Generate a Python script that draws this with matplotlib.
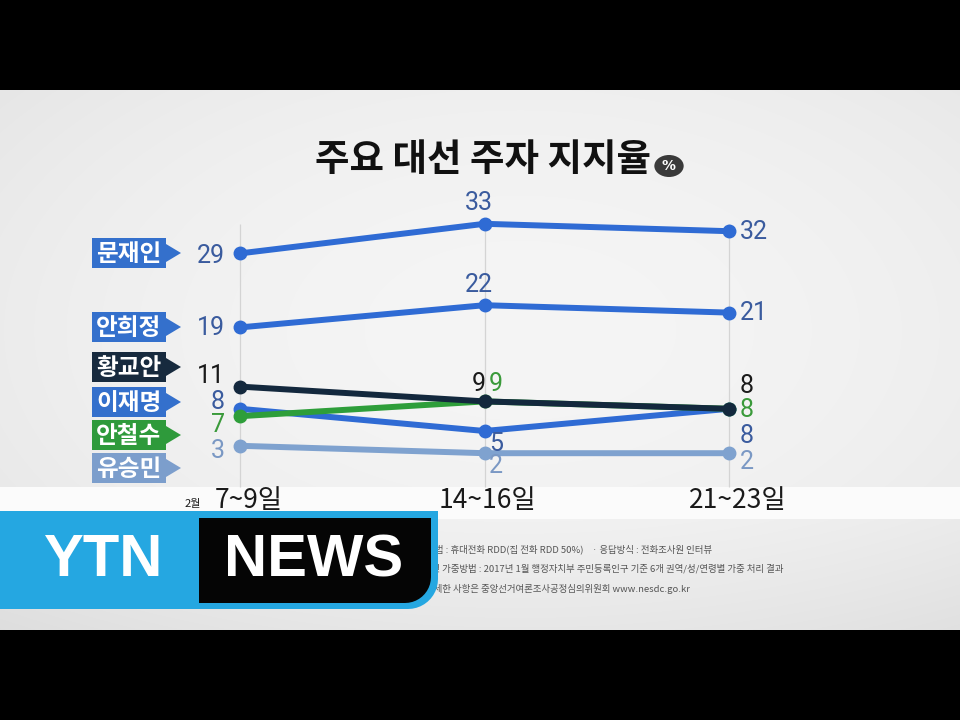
import matplotlib
matplotlib.use('Agg')
import matplotlib.pyplot as plt
import numpy as np
from matplotlib.patches import Rectangle, Polygon, Circle

plt.rcParams['font.family'] = ['Noto Sans CJK KR', 'DejaVu Sans']

# ---------------- data ----------------
title = '주요 대선 주자 지지율'
periods = ['7~9일', '14~16일', '21~23일']
month_label = '2월'
candidates = ['문재인', '안희정', '황교안', '이재명', '안철수', '유승민']
moon = [29, 33, 32]
ahn_hj = [19, 22, 21]
hwang = [11, 9, 8]
lee = [8, 5, 8]
ahn_cs = [7, 9, 8]
yoo = [3, 2, 2]
series = [moon, ahn_hj, hwang, lee, ahn_cs, yoo]
footnotes = [
    '조사방법 : 휴대전화 RDD(집 전화 RDD 50%)    · 응답방식 : 전화조사원 인터뷰',
    '표본 및 가중방법 : 2017년 1월 행정자치부 주민등록인구 기준 6개 권역/성/연령별 가중 처리 결과',
    '자세한 사항은 중앙선거여론조사공정심의위원회 www.nesdc.go.kr',
]

# ---------------- styles ----------------
line_colors = ['#2f6bd4', '#2f6bd4', '#13283d', '#2f6bd4', '#2e9e3a', '#7fa2cf']
tag_colors = ['#3470cc', '#3470cc', '#172a3e', '#3470cc', '#2e9a3b', '#7c9ecc']
num_colors = ['#3a5b9e', '#3a5b9e', '#1a1a1a', '#3a5b9e', '#3a9a3a', '#7a98c4']
zorders = [9, 8, 7, 5, 6, 4]
# label offsets in pixels (start, middle, end)
start_off = [(-15, -3), (-15, -1), (-15, 11), (-15, 7), (-15, -9), (-15, -5)]
mid_off = [(-6, 21), (-6, 20), (-6, 17), (12, -13), (11, 17), (11, -13)]
end_off = [(11, -1), (11, 0), (11, 23), (11, -27), (11, -1), (11, -9)]
tag_tops = [238, 312, 352, 387, 420, 453]   # pixel tops of name tags

W, H = 960, 720
fig = plt.figure(figsize=(9.6, 7.2), dpi=100)
fig.patch.set_facecolor('black')

def fx(x):
    return x / W

def fy(y):
    return 1 - y / H

# ---------- background ----------
bg = fig.add_axes([0, 0, 1, 1], zorder=-5)
yy, xx = np.mgrid[0:H, 0:W]
val = 0.96 - 0.035 * (((xx - 520) / 520.0) ** 2 + ((yy - 330) / 300.0) ** 2)
val = np.where((yy >= 487) & (yy <= 518), 0.988, val)
val = np.where((yy > 518), val - 0.02 * (yy - 518) / 110.0, val)
val = np.where((yy < 90) | (yy >= 630), 0.0, val)
img = np.dstack([val, val, val])
bg.imshow(img, extent=[0, W, H, 0], aspect='auto', interpolation='bilinear')
bg.set_xlim(0, W)
bg.set_ylim(H, 0)
bg.axis('off')

# ---------- main axes ----------
ax = fig.add_axes([0, 0, 1, 1], zorder=1)
ax.patch.set_visible(False)
xs = np.arange(len(periods))
px_per_x = 244.5
px_per_y = 7.4
x0px, y0px = 240, 468
ax.set_xlim(-x0px / px_per_x, (W - x0px) / px_per_x)
ax.set_ylim(-(H - y0px) / px_per_y, y0px / px_per_y)
ax.axis('off')

for x in xs:
    ax.vlines(x, -2.6, 33, color='#d4d4d4', lw=0.9, zorder=1)

for i, vals in enumerate(series):
    ax.plot(xs, vals, color=line_colors[i], lw=4.3, marker='o', ms=9,
            solid_capstyle='round', zorder=zorders[i])
    kw = dict(textcoords='offset pixels', fontsize=18, color=num_colors[i],
              va='center', zorder=12, family='Roboto')
    ax.annotate(str(vals[0]), (xs[0], vals[0]), xytext=start_off[i], ha='right', **kw)
    ax.annotate(str(vals[1]), (xs[1], vals[1]), xytext=mid_off[i], ha='center', **kw)
    ax.annotate(str(vals[2]), (xs[2], vals[2]), xytext=end_off[i], ha='left', **kw)

# ---------- name tags ----------
for i, name in enumerate(candidates):
    top = tag_tops[i]
    bot = top + 30
    mid = (top + bot) / 2
    pts = [(92, top), (166, top), (166, mid - 9), (181, mid), (166, mid + 9),
           (166, bot), (92, bot)]
    fig.patches.append(Polygon([(fx(a), fy(b)) for a, b in pts], closed=True,
                               transform=fig.transFigure, facecolor=tag_colors[i],
                               edgecolor='none', zorder=3))
    fig.text(fx(129), fy(mid + 1), name, color='white', fontsize=17,
             fontweight='bold', ha='center', va='center', zorder=4)

# ---------- title ----------
fig.text(fx(483), fy(160), title, fontsize=27, fontweight='bold', color='#111111',
         ha='center', va='center')
fig.patches.append(Circle((fx(669), fy(166)), 11 / H, transform=fig.transFigure,
                          facecolor='#3a3a3a', edgecolor='none', zorder=3))
fig.text(fx(669), fy(166), '%', fontsize=10, fontweight='bold', color='white',
         ha='center', va='center', family='DejaVu Sans', zorder=4)

# ---------- x labels ----------
label_px = [249, 487, 738]
for lx, lab in zip(label_px, periods):
    fig.text(fx(lx), fy(500), lab, fontsize=19, color='#1a1a1a', ha='center',
             va='center', zorder=2)
fig.text(fx(193), fy(504), month_label, fontsize=8, color='#1a1a1a', ha='center',
         va='center', zorder=2)

# ---------- footnotes ----------
foot_right = [712, 783, 690]
foot_y = [549, 569, 589]
for t, r, y in zip(footnotes, foot_right, foot_y):
    fig.text(fx(r), fy(y), t, fontsize=6.8, color='#555555', ha='right', va='center',
             zorder=2)

# ---------- YTN NEWS logo ----------
def rounded_poly(x0, y0, x1, y1, r):
    ang = np.linspace(0, np.pi / 2, 12)
    arc = [(x1 - r + r * np.cos(a), y1 - r + r * np.sin(a)) for a in ang]
    pts = [(x0, y0), (x1, y0)] + arc + [(x0, y1)]
    return [(fx(a), fy(b)) for a, b in pts]

fig.patches.append(Polygon(rounded_poly(0, 511, 438, 609, 30), closed=True,
                           transform=fig.transFigure, facecolor='#25a7e1',
                           edgecolor='none', zorder=6))
fig.patches.append(Polygon(rounded_poly(199, 518, 431, 603, 26), closed=True,
                           transform=fig.transFigure, facecolor='#050505',
                           edgecolor='none', zorder=7))
fig.text(fx(103), fy(561), 'YTN', fontsize=43, fontweight='bold', color='white',
         ha='center', va='center', family='Liberation Sans', zorder=8)
fig.text(fx(314), fy(561), 'NEWS', fontsize=43, fontweight='bold', color='white',
         ha='center', va='center', family='Liberation Sans', zorder=8)

fig.savefig('out.png', dpi=100, facecolor='black')
